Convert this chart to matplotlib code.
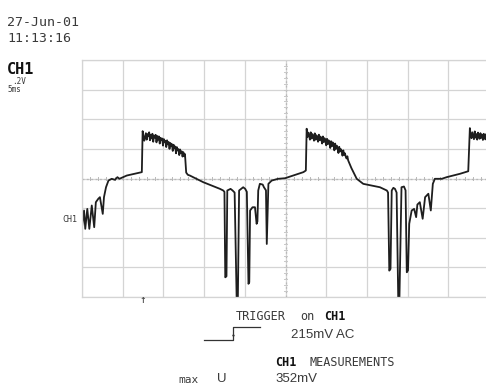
import numpy as np
import matplotlib.pyplot as plt

# CH1 trace, time in ms (5 ms/div), voltage in mV (200 mV/div)
t_ms = [0.0, 0.25, 0.4, 0.65, 0.9, 1.2, 1.5, 1.7, 2.0, 2.2, 2.55, 2.7, 2.95, 3.25, 3.65,
        4.05, 4.35, 4.6, 5.5, 7.35,
        # first plateau
        7.45, 7.55, 7.65, 7.75, 7.85, 7.95, 8.05, 8.15, 8.25, 8.35, 8.45, 8.55, 8.65,
        8.75, 8.85, 8.95, 9.05, 9.15, 9.25, 9.35, 9.45, 9.55, 9.65, 9.75, 9.85, 9.95,
        10.05, 10.15, 10.25, 10.35, 10.45, 10.55, 10.65, 10.75, 10.85, 10.95, 11.05,
        11.15, 11.25, 11.35, 11.45, 11.55, 11.65, 11.75, 11.85, 11.95, 12.05, 12.15,
        12.25, 12.35, 12.45, 12.55, 12.65, 12.8, 13.0, 13.25, 14.9, 16.95, 17.35,
        # first dip group
        17.5, 17.6, 17.75, 17.85, 18.25, 18.5, 18.75, 19.0, 19.15, 19.3, 19.8, 20.05,
        20.25, 20.45, 20.55, 20.65, 20.95, 21.25, 21.45, 21.55, 21.65, 21.85, 22.2, 22.35,
        22.6, 22.7, 22.9, 23.3, 24.1, 24.95, 25.95, 27.2, 27.5,
        # second plateau
        27.6, 27.7, 27.8, 27.9, 28.0, 28.1, 28.2, 28.3, 28.4, 28.5, 28.6, 28.7, 28.8,
        28.9, 29.0, 29.1, 29.2, 29.3, 29.4, 29.5, 29.6, 29.7, 29.8, 29.9, 30.0, 30.1,
        30.2, 30.3, 30.4, 30.5, 30.6, 30.7, 30.8, 30.9, 31.0, 31.1, 31.2, 31.3, 31.4,
        31.5, 31.6, 31.7, 31.8, 31.9, 32.0, 32.1, 32.2, 32.3, 32.4, 32.5, 32.6, 32.7,
        33.1, 33.5, 33.75, 34.55, 36.6, 37.45,
        # second dip group
        37.6, 37.75, 37.9, 38.05, 38.25, 38.45, 38.65, 38.85, 39.0, 39.25, 39.55, 39.75,
        39.9, 40.05, 40.2, 40.5, 40.8, 41.05, 41.2, 41.5, 41.85, 42.15, 42.55, 42.85,
        43.1, 43.35, 44.2, 44.8, 46.45, 47.45,
        # third plateau (cut by the screen edge)
        47.65, 47.75, 47.85, 47.95, 48.05, 48.15, 48.25, 48.35, 48.45, 48.55, 48.65,
        48.75, 48.85, 48.95, 49.05, 49.15, 49.25, 49.35, 49.45, 49.55, 49.65, 49.75,
        49.85, 49.95, 50.0]
v_mv = [-329, -216, -340, -205, -340, -182, -329, -160, -137, -126, -239, -126, -59, -14, -2,
        -9, 9, -2, 20, 43,
        320, 285, 255, 282, 306, 262, 300, 285, 312, 258, 296, 270, 302,
        248, 290, 276, 295, 244, 287, 262, 284, 236, 275, 258, 270, 222,
        266, 245, 255, 212, 258, 230, 246, 200, 240, 218, 232,
        186, 228, 204, 216, 170, 212, 190, 198, 158, 196, 172,
        183, 148, 178, 150, 165, 40, 25, 20, -25, -70, -81,
        -90, -667, -660, -81, -70, -81, -95, -813, -800, -81, -59, -70,
        -90, -711, -700, -216, -194, -194, -306, -290, -81, -36, -41, -59,
        -80, -442, -36, -14, -2, 2, 20, 43, 54,
        336, 280, 310, 290, 262, 312, 270, 300, 284, 255, 305, 262, 292,
        275, 248, 296, 258, 283, 265, 236, 284, 246, 272, 252, 224, 268,
        232, 258, 240, 206, 252, 218, 244, 225, 190, 236, 200, 222, 208,
        172, 214, 182, 198, 186, 154, 190, 160, 170, 148, 135, 150, 122,
        70, 25, -2, -36, -59, -81,
        -95, -622, -610, -81, -63, -70, -95, -813, -800, -59, -54, -80,
        -633, -620, -306, -216, -205, -261, -176, -160, -272, -126, -103, -216,
        -36, -2, -2, 9, 32, 49,
        340, 288, 272, 312, 290, 265, 318, 276, 300, 262, 310,
        284, 268, 306, 275, 296, 260, 302, 286, 264, 300, 272,
        292, 266, 285]

x_ticks = np.arange(0, 51, 5)
y_ticks = np.arange(-800, 801, 200)

W, H = 486, 385
fig = plt.figure(figsize=(W / 100, H / 100), dpi=100)
fig.patch.set_facecolor('white')

# grid box: px 82..489 horizontally, 60..297 vertically
ax = fig.add_axes([82 / W, 1 - 297 / H, 407 / W, 237 / H])
ax.set_xlim(0, 50)
ax.set_ylim(-800, 800)
ax.set_xticks(x_ticks)
ax.set_yticks(y_ticks)
ax.tick_params(length=0, labelbottom=False, labelleft=False)
ax.grid(True, color='#d4d4d4', lw=0.9)
for s in ax.spines.values():
    s.set_color('#d4d4d4')
    s.set_linewidth(0.9)

# dotted center axes with minor ticks
ax.axhline(0, color='#b8b8b8', lw=0.9, ls=(0, (1.5, 2)))
ax.axvline(25, color='#b8b8b8', lw=0.9, ls=(0, (1.5, 2)))
for tx in np.arange(0, 50.01, 1):
    ax.plot([tx, tx], [-12, 12], color='#b8b8b8', lw=0.7)
for vy in np.arange(-800, 801, 40):
    ax.plot([24.8, 25.2], [vy, vy], color='#c8c8c8', lw=0.7)

ax.plot(t_ms, v_mv, color='#1e1e1e', lw=1.3, solid_joinstyle='round')


def txt(x, y, s, **kw):
    kw.setdefault('family', 'DejaVu Sans Mono')
    kw.setdefault('color', '#3a3a3a')
    kw.setdefault('va', 'center')
    kw.setdefault('ha', 'left')
    fig.text(x / W, 1 - y / H, s, **kw)


txt(7, 22, '27-Jun-01', fontsize=9.5)
txt(7, 38, '11:13:16', fontsize=9.5)
txt(7, 70, 'CH1', fontsize=11, weight='bold', color='#111111')
txt(12, 81, '.2V', fontsize=5.5)
txt(7, 90, '5ms', fontsize=5.5)
txt(62, 219, 'CH1', fontsize=6)
txt(142.5, 300, '↑', fontsize=8, ha='center')

txt(236, 316, 'TRIGGER', fontsize=8.5)
txt(300, 316, 'on', fontsize=8.5)
txt(324, 316, 'CH1', fontsize=8.5, weight='bold', color='#111111')
fig.add_artist(plt.Line2D([204 / W, 233 / W, 233 / W, 260 / W],
                          [1 - 340 / H, 1 - 340 / H, 1 - 327 / H, 1 - 327 / H],
                          color='#333333', lw=0.9))
txt(233, 334, '▲', fontsize=3.5, ha='center', color='#333333')
txt(291, 335, '215mV AC', fontsize=9.5, family='Liberation Sans')

txt(275, 363, 'CH1', fontsize=8.5, weight='bold', color='#111111')
txt(309, 363, 'MEASUREMENTS', fontsize=8.5)
txt(178, 380, 'max', fontsize=8)
txt(217, 379, 'U', fontsize=9.5, family='Liberation Sans')
txt(275, 379, '352mV', fontsize=9.5, family='Liberation Sans')

fig.savefig('out.png', dpi=100)
